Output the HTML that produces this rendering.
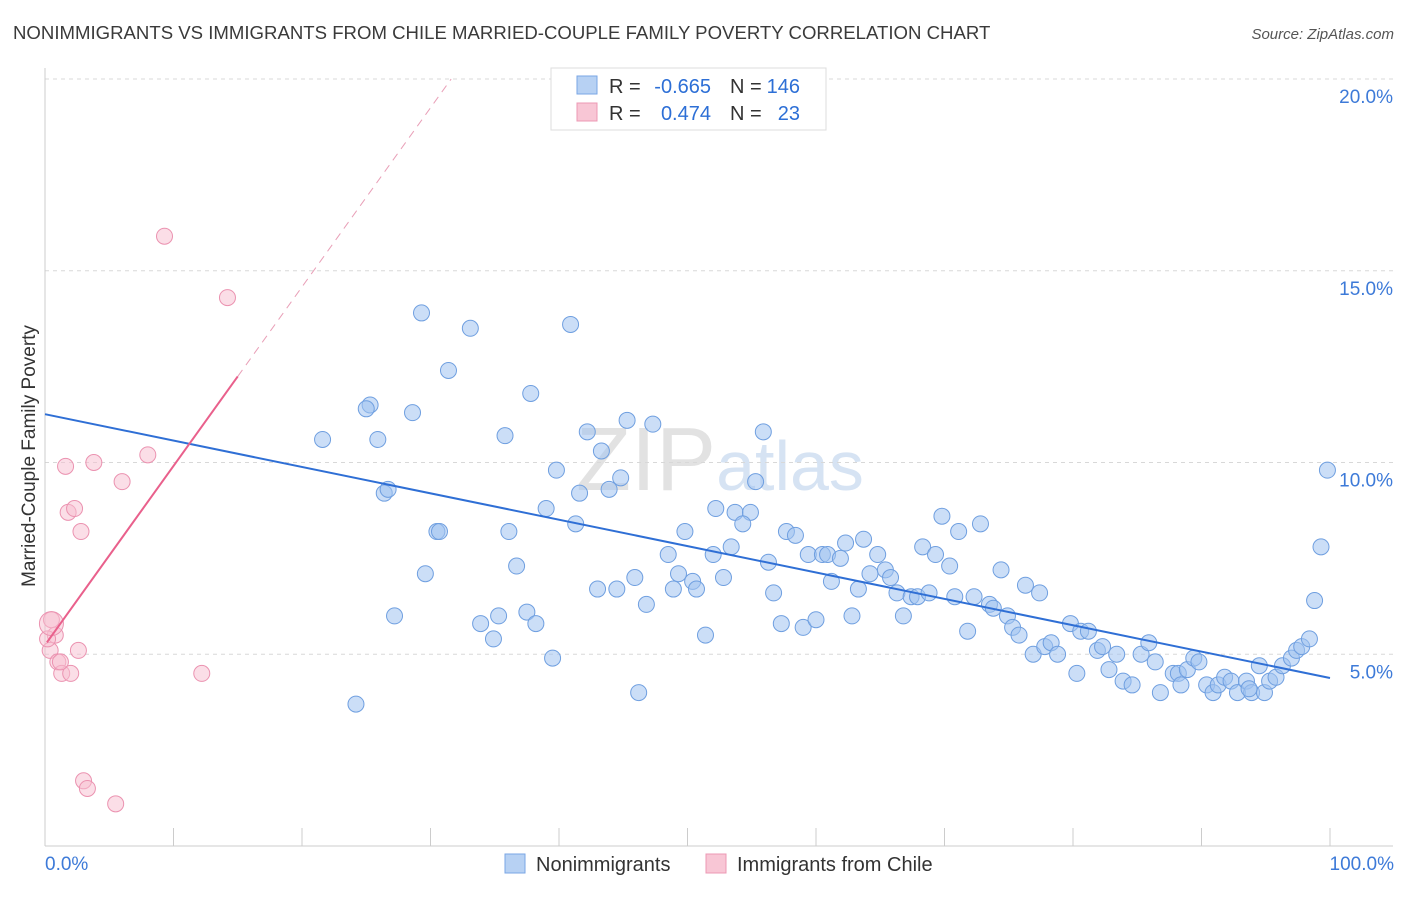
<!DOCTYPE html>
<html><head><meta charset="utf-8"><style>
body{margin:0;background:#fff;font-family:"Liberation Sans",sans-serif;}
svg text{font-family:"Liberation Sans",sans-serif;}
</style></head><body>
<svg id="chart" width="1406" height="892" xmlns="http://www.w3.org/2000/svg">
<text x="13" y="39" font-size="18.6" fill="#3a3a3a">NONIMMIGRANTS VS IMMIGRANTS FROM CHILE MARRIED-COUPLE FAMILY POVERTY CORRELATION CHART</text>
<text x="1394" y="39" font-size="15" fill="#555" text-anchor="end" font-style="italic">Source: ZipAtlas.com</text>
<text x="720" y="490" font-size="90" fill="#dde6f0" text-anchor="middle" font-family="Liberation Serif"><tspan fill="#e2e2e2">ZIP</tspan><tspan font-family="Liberation Sans" font-size="70" fill="#d6e3f3">atlas</tspan></text>
<g id="grid"></g>
<g id="axes"></g>
<g id="marks"></g>
<text transform="translate(35,456) rotate(-90)" font-size="19" fill="#333" text-anchor="middle">Married-Couple Family Poverty</text>
<g font-size="20" fill="#333">
<rect x="551" y="68" width="275" height="62" fill="#fff" stroke="#ddd"/>
<rect x="577" y="76" width="20" height="18" fill="#b7d1f3" stroke="#7aa6e4"/>
<rect x="577" y="103" width="20" height="18" fill="#f8c6d5" stroke="#ec98b4"/>
<text x="609" y="93">R =</text><text x="711" y="93" text-anchor="end" fill="#2d6fd6">-0.665</text>
<text x="730" y="93">N =</text><text x="800" y="93" text-anchor="end" fill="#2d6fd6">146</text>
<text x="609" y="120">R =</text><text x="711" y="120" text-anchor="end" fill="#2d6fd6">0.474</text>
<text x="730" y="120">N =</text><text x="800" y="120" text-anchor="end" fill="#2d6fd6">23</text>
</g>
<g>
<rect x="505" y="854" width="20" height="19" fill="#b7d1f3" stroke="#7aa6e4"/>
<text x="536" y="871" font-size="20" fill="#333">Nonimmigrants</text>
<rect x="706" y="854" width="20" height="19" fill="#f8c6d5" stroke="#ec98b4"/>
<text x="737" y="871" font-size="20" fill="#333">Immigrants from Chile</text>
</g>
</svg>
<script>
const xTicks=[0,10,20,30,40,50,60,70,80,90,100];
const yTicks=[5,10,15,20];
const yTickLabels=["5.0%","10.0%","15.0%","20.0%"];
const xTickLabels=["0.0%","100.0%"];
const blueX=[29.3,33.1,40.9,31.4,25.3,25.0,28.6,37.8,21.6,25.9,35.8,45.3,47.3,42.2,43.3,55.9,39.8,26.4,26.7,41.6,43.9,44.8,55.3,39.0,41.3,30.5,30.7,36.1,52.2,53.7,54.9,54.3,49.8,57.7,58.4,69.8,71.1,72.8,36.7,29.6,48.5,52.0,53.4,56.3,59.4,60.5,60.9,62.3,63.7,61.9,64.8,68.3,69.3,70.4,74.4,27.2,33.9,35.3,37.5,38.2,34.9,39.5,43.0,44.5,45.9,46.8,48.9,49.3,50.4,50.7,52.8,56.7,61.2,63.3,64.2,65.4,65.8,66.3,67.4,67.9,68.8,70.8,72.3,73.5,73.8,74.9,75.3,76.3,77.4,51.4,57.3,59.0,60.0,62.8,66.8,71.8,75.8,76.9,77.8,78.3,78.8,79.8,80.6,81.2,80.3,81.9,82.3,82.8,83.4,83.9,84.6,85.3,85.9,86.4,86.8,87.8,88.2,88.4,88.9,89.4,89.8,90.4,90.9,91.3,91.8,92.3,92.8,93.5,93.9,94.5,94.9,95.3,95.8,96.3,97.0,97.4,97.8,98.4,98.8,99.3,99.8,24.2,46.2,93.7];
const blueY=[13.9,13.5,13.6,12.4,11.5,11.4,11.3,11.8,10.6,10.6,10.7,11.1,11.0,10.8,10.3,10.8,9.8,9.2,9.3,9.2,9.3,9.6,9.5,8.8,8.4,8.2,8.2,8.2,8.8,8.7,8.7,8.4,8.2,8.2,8.1,8.6,8.2,8.4,7.3,7.1,7.6,7.6,7.8,7.4,7.6,7.6,7.6,7.9,8.0,7.5,7.6,7.8,7.6,7.3,7.2,6.0,5.8,6.0,6.1,5.8,5.4,4.9,6.7,6.7,7.0,6.3,6.7,7.1,6.9,6.7,7.0,6.6,6.9,6.7,7.1,7.2,7.0,6.6,6.5,6.5,6.6,6.5,6.5,6.3,6.2,6.0,5.7,6.8,6.6,5.5,5.8,5.7,5.9,6.0,6.0,5.6,5.5,5.0,5.2,5.3,5.0,5.8,5.6,5.6,4.5,5.1,5.2,4.6,5.0,4.3,4.2,5.0,5.3,4.8,4.0,4.5,4.5,4.2,4.6,4.9,4.8,4.2,4.0,4.2,4.4,4.3,4.0,4.3,4.0,4.7,4.0,4.3,4.4,4.7,4.9,5.1,5.2,5.4,6.4,7.8,9.8,3.7,4.0,4.1];
const pinkX=[0.5,0.8,0.4,0.2,1.0,1.3,2.0,2.6,1.2,1.8,2.3,2.8,1.6,3.8,6.0,8.0,9.3,14.2,12.2,3.0,3.3,5.5,0.5];
const pinkY=[5.9,5.5,5.1,5.4,4.8,4.5,4.5,5.1,4.8,8.7,8.8,8.2,9.9,10.0,9.5,10.2,15.9,14.3,4.5,1.7,1.5,1.1,5.8];
const blueTrend=[11.26,4.38];
const pinkTrend=[5.24,0.467];
const NS="http://www.w3.org/2000/svg";
const X0=45,X1=1330,Y0=846,YPX=38.35;
const sx=v=>X0+(X1-X0)*v/100, sy=v=>Y0-v*YPX;
function mk(tag,attrs,parent){const e=document.createElementNS(NS,tag);for(const k in attrs)e.setAttribute(k,attrs[k]);document.getElementById(parent).appendChild(e);return e;}
yTicks.forEach((t,i)=>{
 const l=mk('line',{x1:45,x2:1393,y1:sy(t),y2:sy(t),stroke:'#d8d8d8','stroke-dasharray':'4,4'},'grid');
 
 
 const tx=mk('text',{x:1393,y:sy(t)+24,'font-size':19,fill:'#3d7ad8','text-anchor':'end'},'grid');
 tx.textContent=yTickLabels[i];
 
 
});
const ax=mk('line',{x1:45,x2:45,y1:68,y2:846,stroke:'#ccc'},'axes');


const bx=mk('line',{x1:45,x2:1393,y1:846,y2:846,stroke:'#ccc'},'axes');


xTicks.forEach(t=>{const l=mk('line',{x1:sx(t),x2:sx(t),y1:828,y2:846,stroke:'#ccc'},'axes');
 
 });
[[0,'start',45],[100,'end',1394]].forEach((d,i)=>{const t=mk('text',{x:d[2],y:870,'font-size':19,fill:'#3d7ad8','text-anchor':d[1]},'axes');t.textContent=xTickLabels[i];
 
 });
blueX.forEach((x,i)=>{const c=mk('circle',{cx:sx(x),cy:sy(blueY[i]),r:8,fill:'rgba(160,195,240,0.55)',stroke:'#6f9fe0','stroke-width':1},'marks');
 
 });
pinkX.forEach((x,i)=>{const c=mk('circle',{cx:sx(x),cy:sy(pinkY[i]),r:i==pinkX.length-1?12:8,fill:'rgba(247,190,208,0.5)',stroke:'#eb92b0','stroke-width':1},'marks');
 
 });
const bl=mk('line',{x1:sx(0),y1:sy(blueTrend[0]),x2:sx(100),y2:sy(blueTrend[1]),stroke:'#2f6fd5','stroke-width':2},'marks');


const pf=x=>pinkTrend[0]+pinkTrend[1]*x;
const pl=mk('line',{x1:sx(0.15),y1:sy(pf(0.15)),x2:sx(15),y2:sy(pf(15)),stroke:'#e9608c','stroke-width':2},'marks');


const xe=(20-pinkTrend[0])/pinkTrend[1];
const pd=mk('line',{x1:sx(15),y1:sy(pf(15)),x2:sx(xe),y2:sy(20),stroke:'#e9a0b8','stroke-width':1,'stroke-dasharray':'8,6'},'marks');


</script>
</body></html>
